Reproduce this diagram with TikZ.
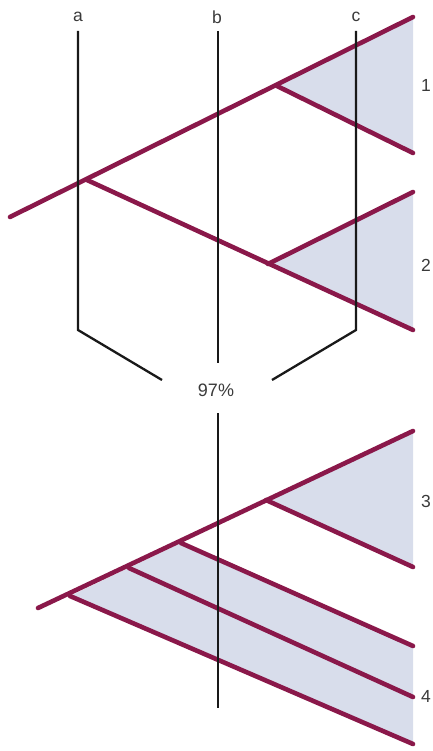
\documentclass[tikz,border=0pt]{standalone}
\usepackage{fontspec}
\setmainfont{Liberation Sans}
\definecolor{plum}{RGB}{138,24,74}
\definecolor{shade}{RGB}{216,221,235}
\definecolor{txt}{RGB}{58,58,58}
\begin{document}
\begin{tikzpicture}[x=1pt,y=-1pt,
  branch/.style={draw=plum,line width=4.6pt,line cap=round},
  axis/.style={draw=black!90,line width=2.3pt},
  region/.style={fill=shade,draw=none},
  lbl/.style={text=txt,font=\fontsize{17.5}{20}\selectfont,inner sep=0pt}]
\useasboundingbox (0,0) rectangle (432,751);
% ---- top tree coordinates
\coordinate (r1) at (10,217);
\coordinate (t1) at (413,17);
\coordinate (n1) at (277,86);
\coordinate (e1) at (413,153);
\coordinate (n0) at (87,180);
\coordinate (e2) at (413,330);
\coordinate (n2) at (268,264);
\coordinate (t2) at (413,192);
% ---- bottom tree coordinates
\coordinate (r2) at (38,608);
\coordinate (t3) at (413,431);
\coordinate (n3) at (266,500);
\coordinate (e3) at (413,567);
\coordinate (m1) at (181,543);
\coordinate (f1) at (413,646);
\coordinate (m2) at (129,568);
\coordinate (f2) at (413,697);
\coordinate (m3) at (70,596);
\coordinate (f3) at (413,744);
% ---- shaded regions
\fill[region] (n1) -- (t1) -- (e1) -- cycle;
\fill[region] (n2) -- (t2) -- (e2) -- cycle;
\fill[region] (n3) -- (t3) -- (e3) -- cycle;
\fill[region] (m3) -- (m1) -- (f1) -- (f3) -- cycle;
% ---- branches
\draw[branch] (r1) -- (t1);
\draw[branch] (n1) -- (e1);
\draw[branch] (n0) -- (e2);
\draw[branch] (n2) -- (t2);
\draw[branch] (r2) -- (t3);
\draw[branch] (n3) -- (e3);
\draw[branch] (m1) -- (f1);
\draw[branch] (m2) -- (f2);
\draw[branch] (m3) -- (f3);
% ---- labels
\node[lbl] (la) at (78,17) {a};
\node[lbl] (lb) at (217,17) {b};
\node[lbl] (lc) at (356,17) {c};
\node[lbl] (l1) at (426,85) {1};
\node[lbl] (l2) at (426,265) {2};
\node[lbl] (l3) at (426,501) {3};
\node[lbl] (l4) at (426,696) {4};
\node[lbl,font=\fontsize{18}{20}\selectfont] (pc) at (216,390) {97\%};
% ---- axes
\coordinate (a0) at (78,31);
\coordinate (a1) at (78,330);
\coordinate (a2) at (162,380);
\coordinate (b0) at (218,31);
\coordinate (b1) at (218,363);
\coordinate (b2) at (218,413);
\coordinate (b3) at (218,708);
\coordinate (c0) at (356,31);
\coordinate (c1) at (356,330);
\coordinate (c2) at (272,380);
\draw[axis] (a0) -- (a1) -- (a2);
\draw[axis] (c0) -- (c1) -- (c2);
\draw[axis] (b0) -- (b1);
\draw[axis] (b2) -- (b3);
\end{tikzpicture}
\end{document}
